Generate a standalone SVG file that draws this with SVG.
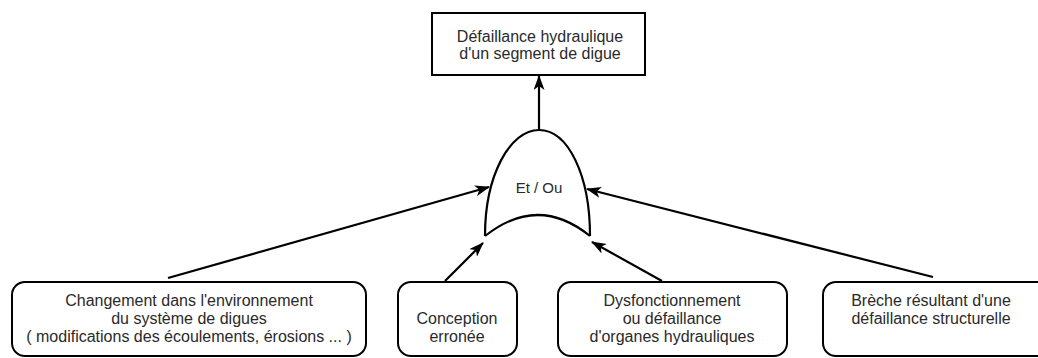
<svg xmlns="http://www.w3.org/2000/svg" width="1038" height="358" viewBox="0 0 1038 358">
<style>
.box{fill:#fff;stroke:#000;stroke-width:2}
.t{font-family:"Liberation Sans",Arial,sans-serif;font-size:16px;fill:#2a2a2a;text-anchor:middle}
.c{fill:none;stroke:#000;stroke-width:2.2}
</style>
<defs>
<marker id="ah" markerWidth="15" markerHeight="11" refX="14" refY="5.5" orient="auto" markerUnits="userSpaceOnUse">
<path d="M0,0 L15,5.5 L0,11 L4,5.5 z" fill="#000"/>
</marker>
</defs>
<rect width="1038" height="358" fill="#fff"/>
<g id="top">
<rect class="box" x="432" y="13" width="213" height="62"/>
<text class="t" x="540" y="42">Défaillance hydraulique</text>
<text class="t" x="540" y="59">d'un segment de digue</text>
</g>
<g id="gate">
<path class="c" d="M485,236 C485,175 510,130 539,130 C568,130 590,175 590,236"/>
<path class="c" d="M485,236 Q538,194 590,236"/>
<text class="t" x="539" y="193" style="font-size:15px">Et / Ou</text>
</g>
<g id="n1">
<rect class="box" x="12" y="282" width="354" height="74" rx="13"/>
<text class="t" x="189" y="306">Changement dans l'environnement</text>
<text class="t" x="189" y="324">du système de digues</text>
<text class="t" x="189" y="342">( modifications des écoulements, érosions ... )</text>
</g>
<g id="n2">
<rect class="box" x="398" y="282" width="119" height="74" rx="13"/>
<text class="t" x="457" y="324">Conception</text>
<text class="t" x="457" y="342">erronée</text>
</g>
<g id="n3">
<rect class="box" x="558" y="282" width="229" height="74" rx="13"/>
<text class="t" x="672" y="306">Dysfonctionnement</text>
<text class="t" x="672" y="324">ou défaillance</text>
<text class="t" x="672" y="342">d'organes hydrauliques</text>
</g>
<g id="n4">
<rect class="box" x="823" y="282" width="230" height="74" rx="13"/>
<text class="t" x="931" y="306">Brèche résultant d'une</text>
<text class="t" x="931" y="324">défaillance structurelle</text>
</g>
<g id="connectors">
<line class="c" x1="539" y1="130" x2="539" y2="76" marker-end="url(#ah)"/>
<line class="c" x1="168" y1="278" x2="489" y2="187" marker-end="url(#ah)"/>
<line class="c" x1="933" y1="277" x2="587" y2="189" marker-end="url(#ah)"/>
<line class="c" x1="445" y1="281" x2="483" y2="243" marker-end="url(#ah)"/>
<line class="c" x1="662" y1="281" x2="592" y2="242" marker-end="url(#ah)"/>
</g>
</svg>
